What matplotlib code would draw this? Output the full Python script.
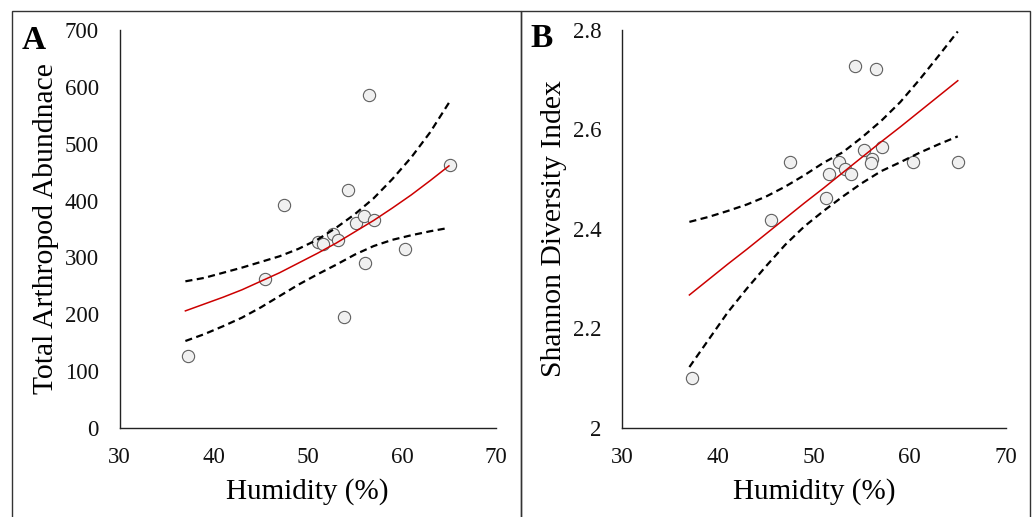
import matplotlib.pyplot as plt
from matplotlib.patches import Rectangle

plt.rcParams['font.family'] = ['Liberation Serif', 'DejaVu Serif']

# observed points (humidity shared by both panels)
humidity = [37.25, 45.45, 47.45, 51.05, 51.6, 52.65, 53.2, 53.85, 54.3,
            55.15, 55.95, 56.05, 56.5, 57.05, 60.3, 65.1]
abundance = [126, 262, 393, 327, 323, 342, 330, 196, 419,
             361, 373, 291, 586, 366, 314, 463]
humidity_b = [37.3, 45.5, 47.5, 51.2, 51.6, 52.65, 53.25, 53.9, 54.3,
              55.2, 56.05, 55.95, 56.5, 57.1, 60.3, 65.05]
shannon = [2.100, 2.418, 2.535, 2.463, 2.510, 2.534, 2.520, 2.511, 2.728,
           2.559, 2.540, 2.532, 2.722, 2.565, 2.535, 2.534]

# fitted curve and confidence band
fit_x = [37, 39, 41, 43, 45, 47, 49, 51, 53, 55, 57, 59, 61, 63, 65]
fit_a = [206, 218, 230, 243, 258, 273, 290, 307, 325, 345, 365, 387, 410, 435, 461]
upper_a = [258, 264, 273, 282, 292, 302, 315, 331, 352, 376, 404, 438, 476, 520, 572]
lower_a = [153, 165, 179, 194, 212, 232, 252, 270, 287, 305, 320, 331, 339, 346, 352]

fit_b = [2.267, 2.298, 2.329, 2.359, 2.390, 2.421, 2.452, 2.482, 2.513,
         2.544, 2.575, 2.605, 2.636, 2.667, 2.698]
upper_b = [2.414, 2.424, 2.436, 2.449, 2.465, 2.485, 2.508, 2.533, 2.554,
           2.584, 2.617, 2.655, 2.700, 2.748, 2.797]
lower_b = [2.122, 2.177, 2.232, 2.280, 2.325, 2.368, 2.405, 2.436, 2.465,
           2.492, 2.516, 2.534, 2.553, 2.570, 2.586]

xticks = [30, 40, 50, 60, 70]
yticks_a = [0, 100, 200, 300, 400, 500, 600, 700]
yticks_b = [2.0, 2.2, 2.4, 2.6, 2.8]
yticklabels_b = ['2', '2.2', '2.4', '2.6', '2.8']

W, H = 1036, 517
fig = plt.figure(figsize=(W / 100, H / 100), dpi=100)

# outer panel frames
for x0, x1 in [(12, 521), (521, 1030)]:
    fig.patches.append(Rectangle((x0 / W, -0.05), (x1 - x0) / W, (H - 10.5) / H + 0.05,
                                 transform=fig.transFigure, fill=False,
                                 edgecolor='#333333', linewidth=1.0))

axA = fig.add_axes([119.5 / W, (H - 428) / H, (496 - 119.5) / W, (428 - 30) / H])
axB = fig.add_axes([622.3 / W, (H - 427.7) / H, (1005.7 - 622.3) / W, (427.7 - 30) / H])


def panel(ax, xs, ys, fit, up, lo, yticks, ylabels, ylim, ylabel):
    ax.scatter(xs, ys, s=78, facecolor='#f0f0f0', edgecolor='#606060',
               linewidth=0.8, zorder=2)
    ax.plot(fit_x, up, color='black', linewidth=1.6, linestyle=(0, (3.2, 2)), zorder=3)
    ax.plot(fit_x, lo, color='black', linewidth=1.6, linestyle=(0, (3.2, 2)), zorder=3)
    ax.plot(fit_x, fit, color='#cc0000', linewidth=1.1, zorder=4)
    ax.set_xlim(30, 70)
    ax.set_ylim(*ylim)
    ax.set_xticks(xticks)
    ax.set_xticklabels([str(t) for t in xticks])
    ax.set_yticks(yticks)
    ax.set_yticklabels(ylabels)
    for s in ['top', 'right']:
        ax.spines[s].set_visible(False)
    for s in ['left', 'bottom']:
        ax.spines[s].set_linewidth(1.0)
        ax.spines[s].set_color('#222222')
    ax.tick_params(length=0, labelsize=16.5, colors='#111111')
    ax.tick_params(axis='x', pad=14)
    ax.tick_params(axis='y', pad=15)
    ax.set_xlabel('Humidity (%)', fontsize=21, labelpad=7)
    ax.set_ylabel(ylabel, fontsize=21.3, labelpad=4)


panel(axA, humidity, abundance, fit_a, upper_a, lower_a,
      yticks_a, [str(t) for t in yticks_a], (0, 700), 'Total Arthropod Abundnace')
panel(axB, humidity_b, shannon, fit_b, upper_b, lower_b,
      yticks_b, yticklabels_b, (2.0, 2.8), 'Shannon Diversity Index')

fig.text(22 / W, 1 - 49 / H, 'A', fontsize=24, fontweight='bold')
fig.text(530 / W, 1 - 47 / H, 'B', fontsize=24, fontweight='bold')

fig.savefig('out.png', dpi=100)
